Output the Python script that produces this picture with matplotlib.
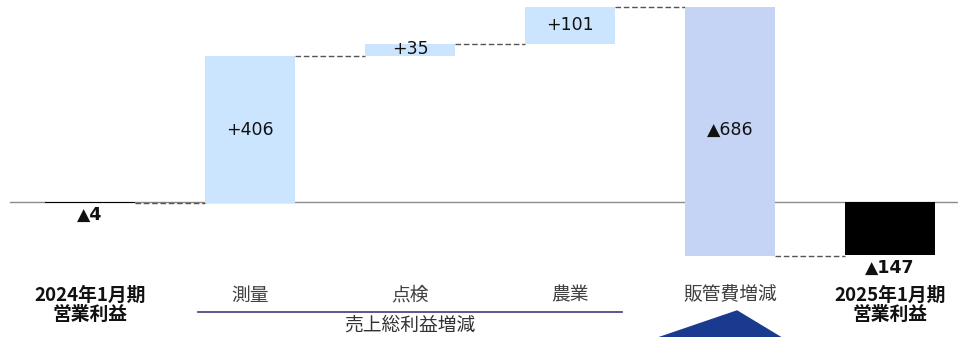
import matplotlib.pyplot as plt
import matplotlib.patches as mpatches

plt.rcParams['font.family'] = ['Noto Sans CJK JP', 'DejaVu Sans']

# waterfall data
categories = ['2024年1月期\n営業利益', '測量', '点検', '農業', '販管費増減', '2025年1月期\n営業利益']
changes = [-4, 406, 35, 101, -686, -147]
value_labels = ['▲4', '+406', '+35', '+101', '▲686', '▲147']
bar_colors = ['#000000', '#cce5ff', '#cce5ff', '#cce5ff', '#c5d3f5', '#000000']
bold_cats = [True, False, False, False, False, True]
group_label = '売上総利益増減'

# pixel -> data helpers (axes fill the whole figure)
px_per_unit = 0.3625
y0_px = 202
def ypx(p):
    return (y0_px - p) / px_per_unit
def xpx(p):
    return (p - 90) / 160

fig = plt.figure(figsize=(9.58, 3.37), dpi=100)
ax = fig.add_axes([0, 0, 1, 1])
ax.set_xlim(xpx(0), xpx(958))
ax.set_ylim(ypx(337), ypx(0))
ax.axis('off')

# baseline
ax.plot([xpx(10), xpx(958)], [0, 0], color='#8c8c8c', lw=1, zorder=1)

width = 90 / 160
n = len(changes)
running = 0
for i, c in enumerate(changes):
    bottom = running if 0 < i < n - 1 else 0
    ax.bar(i, c, bottom=bottom, width=width, color=bar_colors[i], zorder=2)
    if i < n - 1:
        running += c

# connectors
level = 0
for i in range(n - 1):
    level += changes[i]
    ax.plot([i + width / 2, i + 1 - width / 2], [level, level], color='#555555',
            lw=1, ls=(0, (4, 2)), zorder=1)

# value labels
lab_y = [ypx(215), ypx(130), ypx(49), ypx(25), ypx(130), ypx(268)]
for i, t in enumerate(value_labels):
    ax.text(i, lab_y[i], t, ha='center', va='center', fontsize=12.5, color='#111111',
            family=['DejaVu Sans'], fontweight='bold' if bold_cats[i] else 'normal')

# category labels
for i, t in enumerate(categories):
    if bold_cats[i]:
        ax.text(i, ypx(305), t, ha='center', va='center', fontsize=13.5,
                fontweight='bold', color='#111111', linespacing=1.05)
    else:
        ax.text(i, ypx(295), t, ha='center', va='center', fontsize=13.5, color='#404040')

# group bracket
ax.plot([xpx(198), xpx(622)], [ypx(312), ypx(312)], color='#3c3c78', lw=1.2)
ax.text(2, ypx(325), group_label, ha='center', va='center', fontsize=13.5, color='#333333')

# triangle marker
tri = mpatches.Polygon([(xpx(652), ypx(340)), (xpx(737), ypx(311)), (xpx(785), ypx(340))],
                       closed=True, color='#1a3a8f', clip_on=True)
ax.add_patch(tri)

fig.savefig('out.png', dpi=100)
